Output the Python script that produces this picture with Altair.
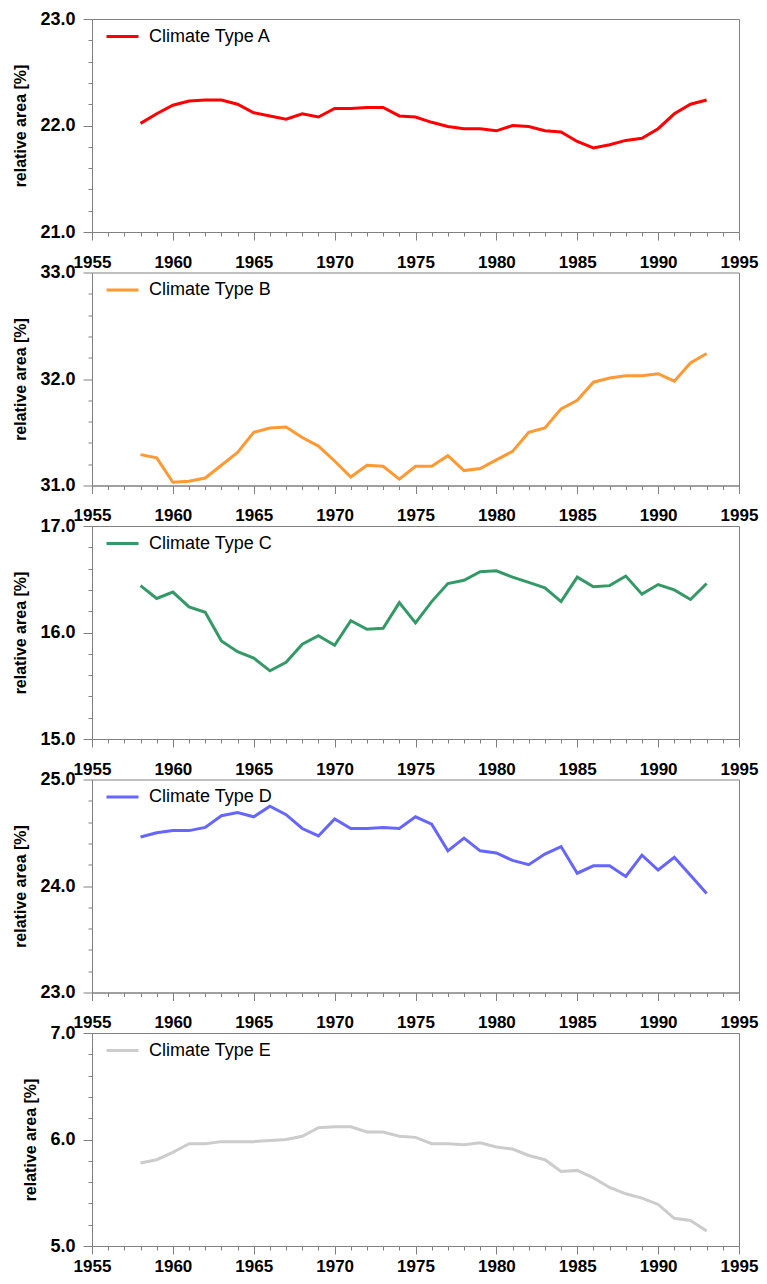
import altair as alt
import pandas as pd

years = list(range(1958, 1994))

type_a = [22.02, 22.11, 22.19, 22.23, 22.24, 22.24, 22.20, 22.12, 22.09, 22.06, 22.11, 22.08,
          22.16, 22.16, 22.17, 22.17, 22.09, 22.08, 22.03, 21.99, 21.97, 21.97, 21.95, 22.00,
          21.99, 21.95, 21.94, 21.85, 21.79, 21.82, 21.86, 21.88, 21.97, 22.11, 22.20, 22.24]
type_b = [31.29, 31.26, 31.03, 31.04, 31.07, 31.19, 31.31, 31.50, 31.54, 31.55, 31.45, 31.37,
          31.23, 31.08, 31.19, 31.18, 31.06, 31.18, 31.18, 31.28, 31.14, 31.16, 31.24, 31.32,
          31.50, 31.54, 31.72, 31.80, 31.97, 32.01, 32.03, 32.03, 32.05, 31.98, 32.15, 32.24]
type_c = [16.44, 16.32, 16.38, 16.24, 16.19, 15.92, 15.82, 15.76, 15.64, 15.72, 15.89, 15.97,
          15.88, 16.11, 16.03, 16.04, 16.28, 16.09, 16.29, 16.46, 16.49, 16.57, 16.58, 16.52,
          16.47, 16.42, 16.29, 16.52, 16.43, 16.44, 16.53, 16.36, 16.45, 16.40, 16.31, 16.46]
type_d = [24.46, 24.50, 24.52, 24.52, 24.55, 24.66, 24.69, 24.65, 24.75, 24.67, 24.54, 24.47,
          24.63, 24.54, 24.54, 24.55, 24.54, 24.65, 24.58, 24.33, 24.45, 24.33, 24.31, 24.24,
          24.20, 24.30, 24.37, 24.12, 24.19, 24.19, 24.09, 24.29, 24.15, 24.27, 24.10, 23.93]
type_e = [5.78, 5.81, 5.88, 5.96, 5.96, 5.98, 5.98, 5.98, 5.99, 6.00, 6.03, 6.11,
          6.12, 6.12, 6.07, 6.07, 6.03, 6.02, 5.96, 5.96, 5.95, 5.97, 5.93, 5.91,
          5.85, 5.81, 5.70, 5.71, 5.64, 5.55, 5.49, 5.45, 5.39, 5.26, 5.24, 5.14]

names = ["Climate Type A", "Climate Type B", "Climate Type C", "Climate Type D", "Climate Type E"]
series = [type_a, type_b, type_c, type_d, type_e]
colors = ["#ff0000", "#ff9933", "#339966", "#6666ff", "#cccccc"]
y_domains = [(21.0, 23.0), (31.0, 33.0), (15.0, 17.0), (23.0, 25.0), (5.0, 7.0)]
x_ticks = list(range(1955, 1996))

FONT = "Liberation Sans"
AXIS_GRAY = "#808080"
INT_TEST = "abs(datum.value - round(datum.value)) < 0.001"


def panel(name, values, color, lo, hi, x_label_pad):
    df = pd.DataFrame({"year": years, "value": values, "series": name})
    y_ticks = [round(lo + 0.2 * i, 1) for i in range(11)]
    return alt.Chart(df).mark_line(strokeWidth=3).encode(
        x=alt.X(
            "year:Q",
            scale=alt.Scale(domain=[1955, 1995], nice=False, zero=False),
            axis=alt.Axis(
                values=x_ticks,
                labelExpr="datum.value % 5 === 0 ? format(datum.value, 'd') : ''",
                title=None, grid=False, labelFlush=False, labelOverlap=False,
                tickSize={"condition": {"test": "datum.value % 5 === 0", "value": 8}, "value": 4},
                labelPadding=x_label_pad, labelFontSize=17,
            ),
        ),
        y=alt.Y(
            "value:Q",
            scale=alt.Scale(domain=[lo, hi], nice=False, zero=False),
            axis=alt.Axis(
                values=y_ticks,
                labelExpr=INT_TEST + " ? format(datum.value, '.1f') : ''",
                title="relative area [%]", grid=False, labelFlush=False, labelOverlap=False,
                tickSize={"condition": {"test": INT_TEST, "value": 9}, "value": 4},
                labelPadding=8, labelFontSize=18,
                titlePadding=11,
            ),
        ),
        color=alt.Color(
            "series:N",
            scale=alt.Scale(domain=[name], range=[color]),
            legend=alt.Legend(
                title=None, orient="none", legendX=13, legendY=0,
                symbolType="stroke", symbolSize=1024, symbolStrokeWidth=3,
                labelFontSize=18, labelFont=FONT, labelFontWeight="normal",
                labelOffset=9, padding=0,
            ),
        ),
    ).properties(width=647, height=213)


label_pads = [14, 14, 14, 14, 4]
charts = [panel(n, v, c, d[0], d[1], p)
          for n, v, c, d, p in zip(names, series, colors, y_domains, label_pads)]

chart = alt.vconcat(*charts, spacing=40.5, bounds="flush").resolve_scale(
    color="independent"
).resolve_legend(color="independent").configure_view(
    stroke=AXIS_GRAY, strokeWidth=1
).configure_axis(
    domainColor=AXIS_GRAY, tickColor=AXIS_GRAY, labelColor="#000000",
    labelFont=FONT, labelFontWeight="bold",
    titleFont=FONT, titleFontSize=16, titleFontWeight="bold", titleColor="#000000",
).properties(
    padding={"left": 4, "top": 1, "right": 0, "bottom": 0},
    background="#ffffff",
)

chart.save("out.html", embed_options={"renderer": "svg", "actions": False})
